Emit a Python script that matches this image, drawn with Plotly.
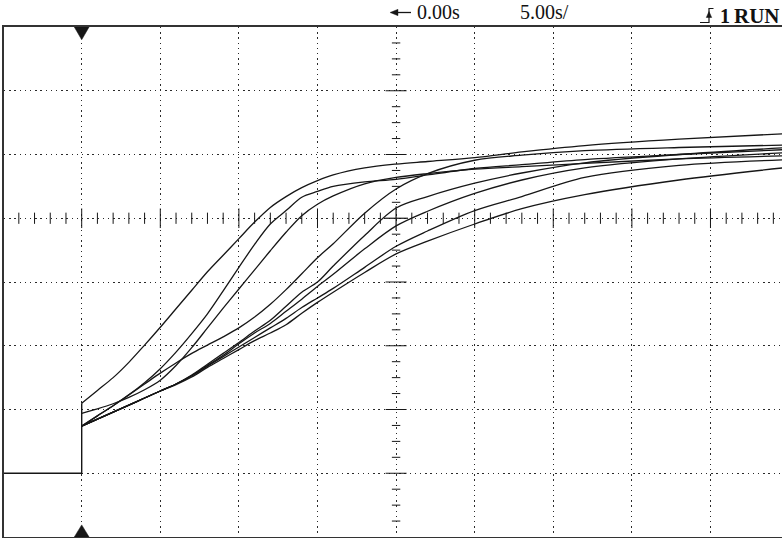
import plotly.graph_objects as go

# ---------------- data (time in s, level in divisions above the ground level) -------------
t = [0, 1, 2, 3, 4, 5, 6, 7, 8, 9, 10, 11, 12, 13, 14, 15, 16, 18, 20, 22, 25, 28, 32, 38, 45]

trace_1 = [1.10, 1.30, 1.50, 1.74, 2.01, 2.29, 2.58, 2.87, 3.16, 3.42, 3.68, 3.94, 4.17,
           4.34, 4.48, 4.59, 4.68, 4.79, 4.85, 4.89, 4.95, 5.04, 5.14, 5.24, 5.33]
trace_2 = [0.74, 0.90, 1.06, 1.23, 1.42, 1.64, 1.90, 2.19, 2.50, 2.86, 3.23, 3.59, 3.91,
           4.12, 4.33, 4.42, 4.50, 4.57, 4.61, 4.68, 4.78, 4.84, 4.92, 5.00, 5.08]
trace_3 = [0.94, 1.01, 1.09, 1.19, 1.31, 1.46, 1.69, 1.97, 2.28, 2.59, 2.89, 3.19, 3.49,
           3.78, 4.04, 4.22, 4.35, 4.54, 4.64, 4.70, 4.77, 4.81, 4.86, 4.93, 4.98]
trace_4 = [0.74, 0.90, 1.06, 1.23, 1.40, 1.57, 1.73, 1.88, 2.01, 2.14, 2.28, 2.45, 2.65,
           2.88, 3.13, 3.38, 3.60, 4.08, 4.46, 4.70, 4.91, 4.99, 5.06, 5.11, 5.15]
trace_5 = [0.74, 0.85, 0.96, 1.07, 1.18, 1.29, 1.40, 1.54, 1.71, 1.88, 2.05, 2.23, 2.40,
           2.62, 2.84, 3.00, 3.25, 3.73, 4.16, 4.34, 4.55, 4.71, 4.87, 5.00, 5.11]
trace_6 = [0.74, 0.85, 0.96, 1.07, 1.18, 1.29, 1.40, 1.53, 1.69, 1.85, 2.03, 2.20, 2.35,
           2.54, 2.73, 2.93, 3.12, 3.52, 3.88, 4.11, 4.39, 4.60, 4.79, 4.93, 5.03]
trace_7 = [0.74, 0.85, 0.96, 1.07, 1.18, 1.29, 1.40, 1.53, 1.68, 1.83, 1.98, 2.13, 2.28,
           2.43, 2.60, 2.75, 2.90, 3.23, 3.56, 3.80, 4.12, 4.34, 4.64, 4.83, 4.92]
trace_8 = [0.74, 0.85, 0.96, 1.07, 1.18, 1.29, 1.39, 1.51, 1.66, 1.80, 1.94, 2.08, 2.20,
           2.33, 2.51, 2.68, 2.84, 3.15, 3.44, 3.64, 3.91, 4.15, 4.37, 4.60, 4.80]

# pre-trigger baseline and step
step_t = [-5, 0, 0]
step_v = [0, 0, 1.10]

# screen / graticule
x_grid = [0, 5, 10, 15, 20, 25, 30, 35, 40]   # 5.00 s/div
y_grid = [0, 1, 2, 3, 4, 5, 6]
center_t = 20
center_v = 4
delay_label = "0.00s"
timebase_label = "5.00s/"
channel_label = "1"
run_label = "RUN"

W, H = 782, 538
ML, MT, MB, MR = 4, 27, 1, 0          # screen frame position inside the window
X_RANGE = [-4.943, 44.55]
Y_RANGE = [-1, 7]

INK = "#161616"
DOT = "#2a2a2a"

fig = go.Figure()

fig.add_trace(go.Scatter(x=step_t, y=step_v, mode="lines",
                         line=dict(color=INK, width=1.4), hoverinfo="skip"))

for vals in [trace_1, trace_2, trace_3, trace_4, trace_5, trace_6, trace_7, trace_8]:
    fig.add_trace(go.Scatter(x=t, y=vals, mode="lines",
                             line=dict(color=INK, width=1.3, shape="spline", smoothing=0.9),
                             hoverinfo="skip"))

# graticule minor ticks on the centre lines
h_minor = [k for k in range(-4, 45) if k % 5 != 0]
h_major = [k for k in range(0, 45, 5) if k != center_t]
v_minor = [i * 0.25 for i in range(-3, 28) if i % 4 != 0]
v_major = [i for i in range(0, 7) if i != center_v]

fig.add_trace(go.Scatter(x=h_minor, y=[center_v] * len(h_minor), mode="markers",
                         marker=dict(symbol="line-ns", size=8, line=dict(width=1, color=INK)),
                         hoverinfo="skip"))
fig.add_trace(go.Scatter(x=h_major, y=[center_v] * len(h_major), mode="markers",
                         marker=dict(symbol="line-ns", size=14, line=dict(width=1, color=INK)),
                         hoverinfo="skip"))
fig.add_trace(go.Scatter(x=[center_t] * len(v_minor), y=v_minor, mode="markers",
                         marker=dict(symbol="line-ew", size=6, line=dict(width=1, color=INK)),
                         hoverinfo="skip"))
fig.add_trace(go.Scatter(x=[center_t] * len(v_major), y=v_major, mode="markers",
                         marker=dict(symbol="line-ew", size=15, line=dict(width=1, color=INK)),
                         hoverinfo="skip"))
fig.add_trace(go.Scatter(x=[center_t, center_t], y=[center_v, center_v], mode="markers",
                         marker=dict(symbol=["line-ns", "line-ew"], size=17,
                                     line=dict(width=1.2, color=INK)),
                         hoverinfo="skip"))

shapes = []
# trigger-position markers
shapes.append(dict(type="path", xref="x", yref="y", path="M -0.47,7 L 0.47,7 L 0,6.8 Z",
                   fillcolor=INK, line=dict(color=INK, width=0.5)))
shapes.append(dict(type="path", xref="x", yref="y", path="M -0.47,-1 L 0.47,-1 L 0,-0.81 Z",
                   fillcolor=INK, line=dict(color=INK, width=0.5)))


def px(xp, yp):
    """window pixel -> paper coordinates of the plot area"""
    return (xp - ML) / (W - ML - MR), (H - MB - yp) / (H - MT - MB)


def path(points, close=False):
    pts = [px(*p) for p in points]
    s = "M " + " L ".join(f"{a:.5f},{b:.5f}" for a, b in pts)
    return s + (" Z" if close else "")


# delay arrow
shapes.append(dict(type="path", xref="paper", yref="paper",
                   path=path([(396, 12.5), (411, 12.5)]), line=dict(color=INK, width=1.3)))
shapes.append(dict(type="path", xref="paper", yref="paper",
                   path=path([(390, 12.5), (398, 9.3), (398, 15.7)], close=True),
                   fillcolor=INK, line=dict(color=INK, width=0.4)))
# rising-edge trigger glyph
shapes.append(dict(type="path", xref="paper", yref="paper",
                   path=path([(700, 22.5), (709, 22.5), (709, 8.5), (713.5, 8.5)]),
                   line=dict(color=INK, width=1.2)))
shapes.append(dict(type="path", xref="paper", yref="paper",
                   path=path([(706.3, 17.5), (711.7, 17.5), (709, 11.5)], close=True),
                   fillcolor=INK, line=dict(color=INK, width=0.5)))

serif = "Liberation Serif, Times New Roman, serif"


def label(xp, yp, text, size):
    x, y = px(xp, yp)
    return dict(x=x, y=y, xref="paper", yref="paper", text=text, showarrow=False,
                xanchor="left", yanchor="middle",
                font=dict(family=serif, size=size, color="#111"))


annotations = [
    label(415, 12, delay_label, 20),
    label(518, 12, timebase_label, 20),
    label(718, 16, "<b>" + channel_label + "</b>", 20),
    label(732, 16, "<b>" + run_label + "</b>", 21),
]

fig.update_layout(
    width=W, height=H,
    margin=dict(l=ML, r=MR, t=MT, b=MB, pad=0),
    paper_bgcolor="white", plot_bgcolor="white",
    showlegend=False,
    shapes=shapes,
    annotations=annotations,
    xaxis=dict(range=X_RANGE, tickvals=x_grid, showgrid=True, gridcolor=DOT, gridwidth=1.3,
               griddash="1.3px,3.9px", zeroline=False, showticklabels=False, ticks="",
               showline=True, linecolor="#333", linewidth=1.6, mirror=True, fixedrange=True),
    yaxis=dict(range=Y_RANGE, tickvals=y_grid, showgrid=True, gridcolor=DOT, gridwidth=1.3,
               griddash="1.3px,3.9px", zeroline=False, showticklabels=False, ticks="",
               showline=True, linecolor="#333", linewidth=1.6, mirror=False, fixedrange=True),
)

# the page body gets no default margin, so the 782x538 figure fills the window exactly
fig.write_html("out.html", config={"displayModeBar": False},
               post_script="document.body.style.margin='0';document.body.style.overflow='hidden';")
